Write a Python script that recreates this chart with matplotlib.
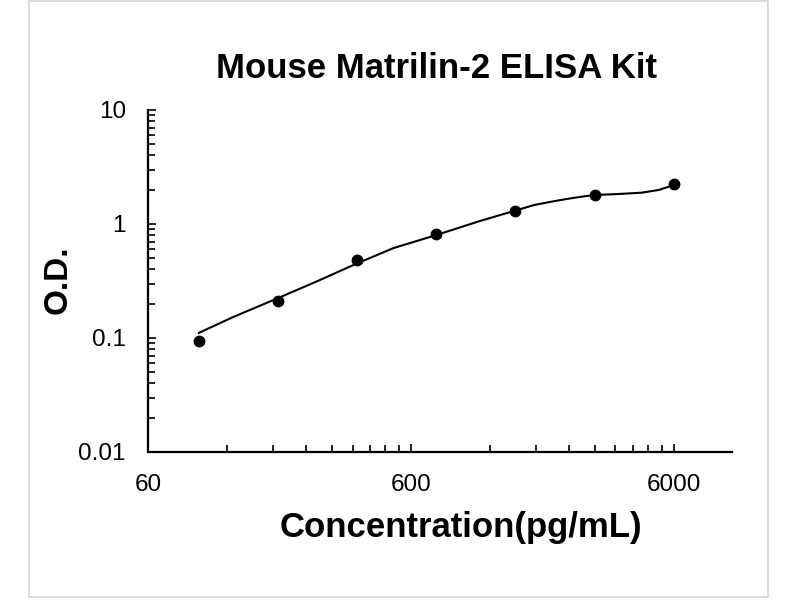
import matplotlib
matplotlib.use("Agg")
import matplotlib.pyplot as plt
from matplotlib.patches import Rectangle
from matplotlib.ticker import LogLocator, FixedLocator, NullFormatter

plt.rcParams['font.family'] = ['Liberation Sans', 'DejaVu Sans']

# standard points (2-fold dilution series)
conc = [93.75, 187.5, 375, 750, 1500, 3000, 6000]
od = [0.095, 0.211, 0.483, 0.817, 1.313, 1.80, 2.24]

# fitted curve
curve_x = [93.75, 126.7, 187.5, 264.3, 375, 516.6, 750, 1078,
           1500, 1769, 2053, 2384, 2745, 3000, 3700, 4530, 5262, 5742, 6000]
curve_y = [0.111, 0.153, 0.224, 0.315, 0.452, 0.616, 0.80, 1.048,
           1.313, 1.468, 1.569, 1.667, 1.750, 1.795, 1.833, 1.882, 1.988, 2.124, 2.23]

x_ticks = [60, 600, 6000]
x_ticklabels = ['60', '600', '6000']
y_ticks = [0.01, 0.1, 1, 10]
y_ticklabels = ['0.01', '0.1', '1', '10']

fig = plt.figure(figsize=(8, 6), dpi=100, facecolor='white')
ax = fig.add_axes([148 / 800, 1 - 452 / 600, (732 - 148) / 800, (452 - 110) / 600])

ax.plot(curve_x, curve_y, color='black', linewidth=1.5, zorder=2,
        solid_joinstyle='round')
ax.plot(conc, od, 'o', color='black', markersize=7.5, zorder=3)

ax.set_xscale('log')
ax.set_yscale('log')
ax.set_xlim(60, 10000)
ax.set_ylim(0.01, 10)

ax.xaxis.set_major_locator(FixedLocator(x_ticks))
ax.set_xticklabels(x_ticklabels)
minor_x = [60 * k * 10 ** d for d in range(3) for k in range(2, 10)]
ax.xaxis.set_minor_locator(FixedLocator([v for v in minor_x if v < 10000]))
ax.xaxis.set_minor_formatter(NullFormatter())

ax.yaxis.set_major_locator(FixedLocator(y_ticks))
ax.set_yticklabels(y_ticklabels)
ax.yaxis.set_minor_locator(LogLocator(base=10, subs=range(2, 10)))
ax.yaxis.set_minor_formatter(NullFormatter())

ax.tick_params(which='both', direction='in', width=1.2, color='black')
ax.tick_params(which='major', length=6, labelsize=17.5, pad=16)
ax.tick_params(which='minor', length=5)

for s in ['top', 'right']:
    ax.spines[s].set_visible(False)
for s in ['left', 'bottom']:
    ax.spines[s].set_linewidth(1.6)

fig.text(436 / 800, 1 - 68 / 600, 'Mouse Matrilin-2 ELISA Kit',
         fontsize=25, fontweight='bold', ha='center', va='center')
fig.text(461 / 800, 1 - 528 / 600, 'Concentration(pg/mL)',
         fontsize=25, fontweight='bold', ha='center', va='center')
fig.text(58 / 800, 1 - 280 / 600, 'O.D.', rotation=90,
         fontsize=24, fontweight='bold', ha='center', va='center')

fig.patches.append(Rectangle((29 / 800, 1 - 597 / 600), (768 - 29) / 800, (597 - 1) / 600,
                             transform=fig.transFigure, fill=False,
                             edgecolor='#d4d4d4', linewidth=1.2))

fig.savefig('out.png', dpi=100, facecolor='white')
